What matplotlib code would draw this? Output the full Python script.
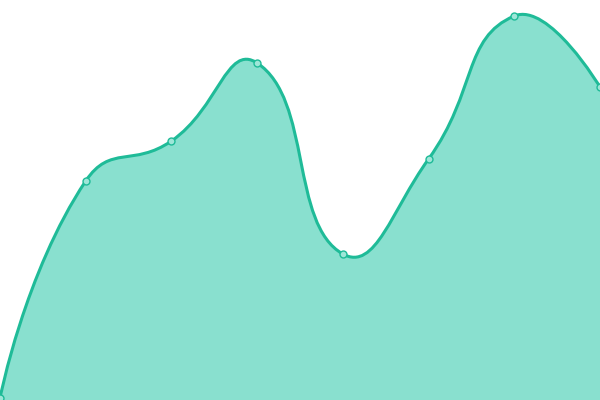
import matplotlib
matplotlib.use("Agg")
import matplotlib.pyplot as plt
from matplotlib.path import Path
from matplotlib.patches import PathPatch
import numpy as np

categories = ["A", "B", "C", "D", "E", "F", "G", "H"]
values = [2, 219, 259, 337, 146, 241, 384, 313]

LINE = "#1fbb98"
FILL = "#89e0cf"

xs = np.arange(len(values), dtype=float)
ys = np.array(values, dtype=float)

def smooth_path(px, py, smooth=0.5):
    n = len(px)
    verts = [(px[0], py[0])]
    codes = [Path.MOVETO]
    cps = []
    for i in range(n):
        if i == 0 or i == n - 1:
            cps.append(((px[i], py[i]), (px[i], py[i])))
            continue
        vx = px[i + 1] - px[i - 1]
        vy = py[i + 1] - py[i - 1]
        # use pixel-like scale for distance
        sx, sy = 600 / (n - 1), 1.0
        d0 = np.hypot((px[i] - px[i - 1]) * sx, (py[i] - py[i - 1]) * sy)
        d1 = np.hypot((px[i + 1] - px[i]) * sx, (py[i + 1] - py[i]) * sy)
        r = d1 / (d0 + d1)
        c0 = (px[i] - vx * smooth * (1 - r), py[i] - vy * smooth * (1 - r))
        c1 = (px[i] + vx * smooth * r, py[i] + vy * smooth * r)
        cps.append((c0, c1))
    for i in range(n - 1):
        verts += [cps[i][1], cps[i + 1][0], (px[i + 1], py[i + 1])]
        codes += [Path.CURVE4] * 3
    return verts, codes

fig = plt.figure(figsize=(6, 4), dpi=100)
ax = fig.add_axes([0, 0, 1, 1])
ax.set_xlim(0, len(values) - 1)
ax.set_ylim(0, 400)
ax.axis("off")

verts, codes = smooth_path(xs, ys)
fill_verts = verts + [(xs[-1], 0), (xs[0], 0), (xs[0], ys[0])]
fill_codes = codes + [Path.LINETO, Path.LINETO, Path.CLOSEPOLY]
ax.add_patch(PathPatch(Path(fill_verts, fill_codes), facecolor=FILL, edgecolor="none"))
ax.add_patch(PathPatch(Path(verts, codes), facecolor="none", edgecolor=LINE, lw=2.2))
ax.plot(xs, ys, "o", ms=5, mfc="#9ee6d8", mec=LINE, mew=1, clip_on=False)

fig.savefig("out.png", dpi=100)
